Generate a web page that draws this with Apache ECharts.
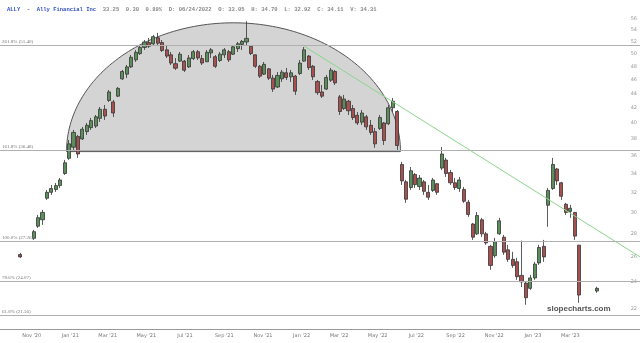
<!DOCTYPE html>
<html><head><meta charset="utf-8">
<script src="https://cdn.jsdelivr.net/npm/echarts@6/dist/echarts.min.js"></script>
<style>html,body{margin:0;padding:0;background:#fff}#c{width:640px;height:343px}</style>
</head><body><div id="c"></div><script>
// ---- data ----
const firstWeek = '2020-11-04';            // weekly candles start (Wednesday of week)
const weeklyOHLC = [ // [open, close, low, high]
[27.6,28.2,27.46,28.36],[28.7,29.5,28.54,29.76],[29.3,30.0,28.82,30.24],[31.4,32.0,31.23,32.25],
[32.0,32.4,31.74,32.77],[32.3,32.7,32.04,32.98],[32.7,33.3,32.46,33.52],[34.0,35.2,33.84,35.52],
[35.7,37.4,35.52,37.87],[37.0,38.8,36.68,39.11],[38.3,36.2,35.75,38.49],[38.0,39.2,37.87,39.49],
[38.9,39.7,38.49,40.0],[39.4,40.3,39.11,40.65],[39.6,40.8,39.36,41.04],[40.6,41.8,40.13,42.11],
[41.8,40.9,40.39,42.38],[43.0,44.2,42.8,44.47],[42.8,41.3,40.78,43.07],[43.6,44.7,43.49,44.91],
[46.1,47.2,45.93,47.43],[46.8,47.9,46.22,48.2],[47.9,49.4,47.74,49.77],[49.0,50.2,48.67,50.58],
[50.0,51.0,49.77,51.4],[51.0,51.9,50.58,52.23],[51.8,51.2,50.9,52.57],[51.6,52.8,51.4,53.09],
[52.6,51.7,51.4,53.44],[51.8,50.5,50.26,52.23],[50.6,49.6,49.29,51.4],[49.8,48.5,48.2,50.26],
[48.4,47.7,47.43,49.29],[48.8,49.9,48.67,50.26],[48.8,47.4,47.13,48.98],[47.9,49.3,47.74,49.77],
[49.2,50.3,48.98,50.58],[50.3,49.3,48.98,50.58],[49.2,48.5,48.2,49.77],[48.7,50.2,48.67,50.58],
[50.1,50.6,49.29,50.9],[49.5,48.0,47.74,49.77],[48.9,49.9,48.67,50.26],[49.8,50.6,49.29,50.9],
[50.3,49.0,48.67,50.58],[49.9,51.1,49.77,51.4],[50.8,51.6,50.26,51.9],[51.5,52.0,50.58,52.23],
[51.9,52.5,51.4,55.5],[51.2,50.0,49.77,51.4],[49.8,48.0,47.74,49.77],[48.0,46.5,46.22,48.2],
[46.8,48.3,46.67,48.67],[47.6,46.2,45.93,47.74],[46.2,44.6,44.19,46.67],[44.9,46.6,44.76,47.13],
[46.1,47.1,45.64,47.43],[47.0,46.3,45.93,47.74],[46.4,47.0,45.64,47.43],[46.5,44.3,43.77,46.67],
[46.9,48.5,46.67,48.98],[48.8,50.6,48.7,51.07],[49.6,47.8,47.43,49.77],[48.0,46.4,45.93,48.2],
[45.7,44.1,43.77,45.93],[44.2,43.6,43.35,45.2],[44.6,46.3,44.47,46.67],[45.9,47.4,45.64,47.74],
[47.2,45.5,45.2,47.43],[43.5,41.5,41.04,43.77],[41.9,43.2,41.71,43.77],[42.9,41.6,41.04,43.07],
[41.9,40.7,40.39,42.38],[41.0,40.0,39.74,41.44],[40.1,41.3,39.74,41.71],[40.8,39.5,39.11,41.04],
[39.7,38.8,38.49,40.39],[38.9,37.4,36.92,39.36],[39.3,40.7,39.11,41.04],[40.0,37.8,37.27,40.13],
[39.9,42.0,39.74,42.38],[42.0,42.9,41.44,43.35],[41.5,37.2,36.68,41.71],[35.0,33.2,32.77,35.29],
[33.1,31.3,30.93,33.3],[32.5,34.3,32.25,34.72],[33.9,32.8,32.46,34.06],[32.6,33.5,32.25,33.84],
[33.1,32.1,31.74,33.3],[32.0,31.5,31.23,32.77],[32.2,33.3,32.04,33.52],[32.9,32.0,31.74,32.98],
[34.6,36.2,34.39,37.03],[35.5,34.0,33.63,35.75],[34.1,33.0,32.77,34.39],[33.0,32.5,32.25,33.52],
[32.4,33.3,32.04,33.63],[32.3,31.1,30.93,32.56],[31.0,29.8,29.57,31.23],[28.9,27.7,27.46,29.0],
[28.0,29.7,27.9,30.04],[29.3,28.0,27.73,29.48],[28.0,27.2,27.03,28.18],[26.9,25.3,24.94,27.03],
[26.1,27.3,25.92,27.64],[28.0,29.2,27.91,29.48],[27.7,26.4,26.17,27.91],[26.6,25.8,25.59,27.03],
[25.8,25.3,25.1,26.43],[25.6,24.4,24.15,25.92],[24.5,24.0,23.6,27.4],[23.9,22.8,22.29,24.0],
[23.5,24.3,23.39,24.54],[24.3,25.4,24.15,25.59],[25.5,26.8,25.34,27.03],[26.9,26.0,25.59,27.46],
[30.7,32.2,28.64,32.46],[32.4,35.0,32.25,35.75],[34.5,33.2,32.77,34.61],[33.0,31.6,31.23,33.1],
[30.8,30.0,29.76,30.93],[30.1,30.4,29.48,30.73],[30.0,27.8,27.46,30.04],[27.0,23.0,22.43,27.03]
];
const extraDates = ['2020-10-14', '2023-04-12'];
const extraOHLC = [[26.2,26.0,25.92,26.34],[23.3,23.5,23.16,23.62]];

const fibLabels = ['261.8% (51.40)','161.8% (36.48)','100.0% (27.26)','78.6% (24.07)','61.8% (21.56)'];
const fibPrices = [51.40, 36.48, 27.26, 24.07, 21.56];

const domeStart = '2020-12-26', domeEnd = '2022-06-06', domeBase = 36.48, domeTop = 55.2;
const trendDates = ['2022-01-05', '2023-06-19'];
const trendPrices = [51.2, 26.0];

const priceTicks = [22,24,26,28,30,32,34,36,38,40,42,44,46,48,50,52,54,56];
const monthLabels = ["Nov '20","Jan '21","Mar '21","May '21","Jul '21","Sep '21","Nov '21","Jan '22","Mar '22","May '22","Jul '22","Sep '22","Nov '22","Jan '23","Mar '23"];
const monthDates = ['2020-11-01','2021-01-01','2021-03-01','2021-05-01','2021-07-01','2021-09-01','2021-11-01','2022-01-01','2022-03-01','2022-05-01','2022-07-01','2022-09-01','2022-11-01','2023-01-01','2023-03-01'];
const axisDateMin = '2020-09-12', axisDateMax = '2023-06-19';
const priceMin = 20.62, priceMax = 59.40;

const header = {ticker: 'ALLY  -  Ally Financial Inc', rest: '  33.25  0.30  0.89%  D: 06/24/2022  O: 33.05  H: 34.70  L: 32.92  C: 34.11  V: 34.31'};

// ---- build ----
const T = s => Date.parse(s + 'T00:00:00Z');
const L = Math.log;
const DAY = 86400000;
const row = (t, r) => [t, L(r[0]), L(r[1]), L(r[2]), L(r[3])];
const candles = [row(T(extraDates[0]), extraOHLC[0])];
weeklyOHLC.forEach((r,k)=>{ candles.push(row(T(firstWeek)+k*7*DAY, r)); });
candles.push(row(T(extraDates[1]), extraOHLC[1]));

const monthT = monthDates.map(T);
const chart = echarts.init(document.getElementById('c'), null, {renderer:'canvas'});
chart.setOption({
  animation:false,
  backgroundColor:'#fff',
  title:{ left:2, top:2, text:'{a|'+header.ticker+'}{b|'+header.rest+'}',
    textStyle:{ rich:{ a:{fontFamily:'Liberation Mono', fontSize:5.5, color:'#3050c0', textDecoration:'underline'},
                       b:{fontFamily:'Liberation Mono', fontSize:5.5, color:'#888'} } } },
  graphic:[{type:'text', left:547, top:305, style:{text:'slopecharts.com', font:'bold 8px "Liberation Sans"', fill:'#555'}}],
  grid:{left:0,right:0,top:0,bottom:14},
  xAxis:{ type:'value', min:T(axisDateMin), max:T(axisDateMax),
    axisLine:{show:true, lineStyle:{color:'#999', width:1}}, axisTick:{show:false}, splitLine:{show:false},
    axisLabel:{ customValues: monthT, fontSize:5, color:'#777', margin:4, fontFamily:'DejaVu Sans',
      formatter: v => { const i = monthT.indexOf(v); return i>=0 ? monthLabels[i] : ''; } } },
  yAxis:{ type:'value', position:'right', min:L(priceMin), max:L(priceMax), scale:true,
    axisLine:{show:false}, axisTick:{show:false}, splitLine:{show:false},
    axisLabel:{ inside:true, customValues: priceTicks.map(L), fontSize:5, color:'#999', margin:3, fontFamily:'DejaVu Sans',
      formatter: v => String(Math.round(Math.exp(v))) } },
  series:[
    { type:'custom', z:1, clip:false, silent:true,
      data:[[T(domeStart), L(domeBase), T(domeEnd), L(domeTop)]],
      encode:{x:[0,2], y:[1,3]},
      renderItem:(params, api)=>{
        const a = api.coord([api.value(0), api.value(1)]);
        const b = api.coord([api.value(2), api.value(1)]);
        const t = api.coord([api.value(0), api.value(3)]);
        const cx=(a[0]+b[0])/2, rx=(b[0]-a[0])/2, ry=a[1]-t[1], cy=a[1];
        const pts=[];
        for(let i=0;i<=120;i++){ const th=Math.PI*i/120; pts.push([cx-rx*Math.cos(th), cy-ry*Math.sin(th)]); }
        return {type:'polygon', shape:{points:pts}, style:{fill:'#d4d4d4', stroke:'#555', lineWidth:1}};
      } },
    { type:'candlestick', z:3, barWidth:3.6, data:candles,
      itemStyle:{ color:'#5a8f5a', color0:'#a85050', borderColor:'#333', borderColor0:'#333', borderWidth:0.8 },
      markLine:{ silent:true, symbol:['none','none'], animation:false,
        lineStyle:{color:'#b0b0b0', width:1, type:'solid'},
        label:{ position:'insideStartTop', distance:[2,1], fontSize:5, color:'#777', fontFamily:'Liberation Serif' },
        data: fibPrices.map((p,i)=>({yAxis:L(p), label:{formatter:fibLabels[i]}})) } },
    { type:'line', z:4, symbol:'none', silent:true,
      data: trendDates.map((d,i)=>[T(d), L(trendPrices[i])]),
      lineStyle:{color:'#8cd48c', width:1} }
  ]
});
</script></body></html>
